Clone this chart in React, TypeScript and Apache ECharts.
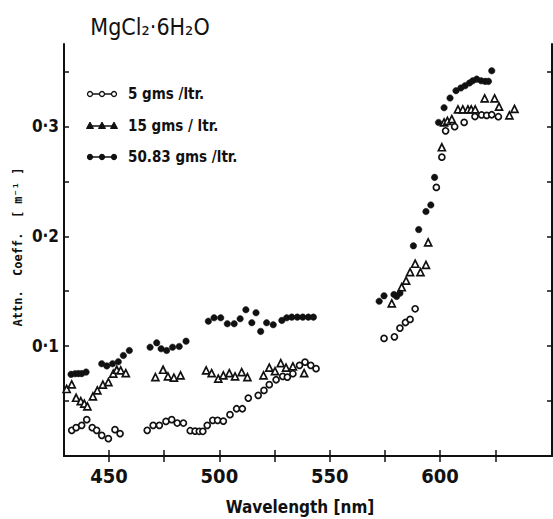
import React, { useEffect, useRef } from "react";
import * as echarts from "echarts";

// 5 gms/ltr (open circles)
const wl5 = [433.1, 435.1, 437.6, 439.9, 442.4, 444.4, 446.7, 449.7, 452.7, 455.0, 467.3, 470.0, 472.8, 475.8, 478.4, 480.9, 483.7, 486.8, 489.0, 490.9, 492.5, 494.5, 497.0, 499.2, 501.8, 504.8, 507.8, 510.4, 513.1, 517.6, 520.2, 522.6, 525.7, 528.7, 530.8, 533.3, 536.3, 538.8, 541.4, 543.8, 574.6, 579.3, 581.8, 584.3, 586.4, 588.7, 598.3, 600.8, 602.5, 606.6, 610.9, 615.8, 618.8, 621.1, 623.4, 626.4];
const att5 = [0.0234, 0.0258, 0.0279, 0.0331, 0.0258, 0.0234, 0.0188, 0.0158, 0.024, 0.0204, 0.0234, 0.0279, 0.0279, 0.0315, 0.0331, 0.03, 0.03, 0.023, 0.0227, 0.0225, 0.0225, 0.0279, 0.0325, 0.0325, 0.0318, 0.0376, 0.043, 0.043, 0.0527, 0.0552, 0.0597, 0.0649, 0.0694, 0.0725, 0.0718, 0.0749, 0.0825, 0.0855, 0.0825, 0.0795, 0.107, 0.1085, 0.1164, 0.1215, 0.1243, 0.134, 0.2445, 0.272, 0.296, 0.2997, 0.3036, 0.309, 0.3104, 0.31, 0.3106, 0.3088];

// 15 gms/ltr (triangles)
const wl15 = [430.8, 433.1, 435.1, 437.2, 438.8, 440.2, 442.7, 444.7, 447.2, 449.7, 451.9, 453.5, 455.3, 457.6, 471.0, 474.5, 476.7, 479.4, 482.4, 494.0, 496.5, 499.5, 501.8, 504.5, 507.1, 510.1, 512.7, 520.0, 522.6, 525.2, 527.8, 530.2, 533.3, 538.4, 578.1, 582.6, 584.6, 586.4, 588.7, 591.1, 593.6, 594.6, 600.8, 601.8, 603.3, 605.3, 608.1, 610.3, 612.6, 614.1, 615.9, 620.2, 624.7, 626.7, 631.4, 633.7];
const att15 = [0.061, 0.0652, 0.053, 0.05, 0.0476, 0.0452, 0.0543, 0.0597, 0.065, 0.0673, 0.075, 0.0785, 0.078, 0.0755, 0.0718, 0.0785, 0.0725, 0.0713, 0.0734, 0.078, 0.0755, 0.0704, 0.0734, 0.0755, 0.0725, 0.0764, 0.0718, 0.0734, 0.0804, 0.0773, 0.0845, 0.0804, 0.0815, 0.0755, 0.139, 0.1536, 0.1597, 0.1673, 0.175, 0.1673, 0.174, 0.1945, 0.281, 0.3036, 0.305, 0.3067, 0.3155, 0.3155, 0.3155, 0.3155, 0.3155, 0.3255, 0.3255, 0.318, 0.31, 0.316];

// 50.83 gms/ltr (filled circles)
const wl50 = [432.8, 434.6, 436.1, 437.6, 439.6, 446.7, 449.0, 451.6, 454.2, 456.5, 459.2, 468.6, 471.6, 473.6, 476.1, 478.8, 481.8, 484.9, 495.0, 497.6, 500.6, 503.6, 506.7, 509.4, 512.0, 514.7, 516.6, 518.7, 521.4, 524.4, 528.3, 530.5, 532.8, 535.3, 537.8, 540.3, 542.6, 572.4, 574.6, 579.1, 580.3, 581.8, 587.9, 590.3, 593.6, 595.8, 597.5, 599.3, 601.8, 604.5, 607.2, 609.4, 611.3, 613.3, 614.8, 616.6, 618.6, 620.4, 621.9, 623.4];
const att50 = [0.0743, 0.0749, 0.075, 0.075, 0.0764, 0.084, 0.082, 0.084, 0.0858, 0.0915, 0.096, 0.099, 0.103, 0.0976, 0.096, 0.099, 0.0997, 0.1045, 0.1227, 0.1258, 0.1258, 0.1204, 0.1204, 0.1249, 0.1331, 0.1213, 0.1304, 0.1134, 0.1213, 0.1195, 0.1234, 0.1258, 0.1264, 0.1264, 0.1264, 0.1264, 0.1264, 0.1409, 0.1458, 0.147, 0.1452, 0.1482, 0.1913, 0.2061, 0.2225, 0.2285, 0.2536, 0.3036, 0.317, 0.3258, 0.3325, 0.335, 0.337, 0.3395, 0.3415, 0.343, 0.3415, 0.341, 0.341, 0.3506];

const xTicks = [450, 475, 500, 525, 550, 575, 600, 625];
const xLabels = [450, 500, 550, 600];
const yTicks = [0.05, 0.1, 0.15, 0.2, 0.25, 0.3, 0.35];
const yLabels = [0.1, 0.2, 0.3];
const legendLabels = ["5 gms /ltr.", "15 gms / ltr.", "50.83 gms /ltr."];
const titleText = "MgCl₂·6H₂O";
const xName = "Wavelength [nm]";
const yName = "Attn.  Coeff.  [ m⁻¹ ]";

const zip = (a: number[], b: number[]) => a.map((v, i) => [v, b[i]]);

export default function App() {
  const ref = useRef<HTMLDivElement>(null);
  useEffect(() => {
    if (!ref.current) return;
    const chart = echarts.init(ref.current, undefined, { renderer: "svg" });
    const ink = "#111";
    const numFont = "'Liberation Sans Narrow', 'DejaVu Sans Condensed', sans-serif";
    const axisCommon = {
      type: "value" as const,
      axisLine: { show: true, lineStyle: { color: ink, width: 2 } },
      splitLine: { show: false },
    };
    const legendY = [94, 126, 157];
    const legendGraphics: any[] = [];
    legendY.forEach((y, i) => {
      legendGraphics.push({
        type: "line",
        shape: { x1: 89, y1: y, x2: 115, y2: y },
        style: { stroke: ink, lineWidth: 1.5 },
      });
      [90, 102, 114].forEach((x) => {
        if (i === 1) {
          legendGraphics.push({
            type: "polygon",
            shape: { points: [[x, y - 4], [x - 3.5, y + 2.5], [x + 3.5, y + 2.5]] },
            style: { fill: ink, stroke: ink, lineWidth: 1 },
          });
        } else {
          legendGraphics.push({
            type: "circle",
            shape: { cx: x, cy: y, r: 2.5 },
            style: { fill: i === 0 ? "#fff" : ink, stroke: ink, lineWidth: 1.3 },
          });
        }
      });
      legendGraphics.push({
        type: "text",
        x: 128,
        y: y,
        style: {
          text: legendLabels[i],
          fill: ink,
          font: "bold 15px 'DejaVu Sans Condensed', sans-serif",
          textAlign: "left",
          textVerticalAlign: "middle",
        },
      });
    });

    chart.setOption({
      animation: false,
      backgroundColor: "#fff",
      grid: { left: 64, right: 1, top: 44, bottom: 63, containLabel: false },
      xAxis: [
        {
          ...axisCommon,
          position: "bottom",
          min: 429.6,
          max: 650.7,
          axisTick: { show: true, inside: true, length: 6, customValues: xTicks, lineStyle: { color: ink, width: 1.5 } },
          axisLabel: {
            show: true,
            customValues: xLabels,
            margin: 10,
            color: ink,
            fontSize: 20,
            fontWeight: "bold",
            fontFamily: numFont,
          },
        },
        {
          ...axisCommon,
          position: "top",
          min: 429.6,
          max: 650.7,
          axisTick: { show: true, inside: true, length: 6, customValues: xTicks, lineStyle: { color: ink, width: 1.5 } },
          axisLabel: { show: false },
        },
      ],
      yAxis: [
        {
          ...axisCommon,
          position: "left",
          min: 0,
          max: 0.375,
          axisTick: { show: true, inside: true, length: 5, customValues: yTicks, lineStyle: { color: ink, width: 1.5 } },
          axisLabel: {
            show: true,
            customValues: yLabels,
            margin: 5,
            color: ink,
            fontSize: 17,
            fontWeight: "bold",
            fontFamily: numFont,
            formatter: (v: number) => "0·" + Math.round(v * 10),
          },
        },
        {
          ...axisCommon,
          position: "right",
          min: 0,
          max: 0.375,
          axisTick: { show: true, inside: true, length: 5, customValues: yTicks, lineStyle: { color: ink, width: 1.5 } },
          axisLabel: { show: false },
        },
      ],
      series: [
        {
          name: legendLabels[0],
          type: "scatter",
          symbol: "circle",
          symbolSize: 6,
          itemStyle: { color: "#fff", borderColor: ink, borderWidth: 1.7, opacity: 1 },
          data: zip(wl5, att5),
        },
        {
          name: legendLabels[1],
          type: "scatter",
          symbol: "triangle",
          symbolSize: 7,
          itemStyle: { color: "#fff", borderColor: ink, borderWidth: 1.7, opacity: 1 },
          data: zip(wl15, att15),
        },
        {
          name: legendLabels[2],
          type: "scatter",
          symbol: "circle",
          symbolSize: 6.5,
          itemStyle: { color: ink, borderColor: ink, borderWidth: 0.5, opacity: 1 },
          data: zip(wl50, att50),
        },
      ],
      graphic: [
        {
          type: "text",
          x: 150,
          y: 27,
          style: {
            text: titleText,
            fill: ink,
            font: "23px 'DejaVu Sans Condensed', 'DejaVu Sans', sans-serif",
            textAlign: "center",
            textVerticalAlign: "middle",
          },
        },
        {
          type: "text",
          x: 300,
          y: 507,
          style: {
            text: xName,
            fill: ink,
            font: "bold 17px 'DejaVu Sans Condensed', 'DejaVu Sans', sans-serif",
            textAlign: "center",
            textVerticalAlign: "middle",
          },
        },
        {
          type: "text",
          x: 18,
          y: 247,
          rotation: Math.PI / 2,
          style: {
            text: yName,
            fill: ink,
            font: "bold 12px 'DejaVu Sans Mono', monospace",
            textAlign: "center",
            textVerticalAlign: "middle",
          },
        },
        ...legendGraphics,
      ],
    });
    return () => chart.dispose();
  }, []);
  return (
    <div
      ref={ref}
      style={{ position: "fixed", left: 0, top: 0, width: 553, height: 519, background: "#fff" }}
    />
  );
}
